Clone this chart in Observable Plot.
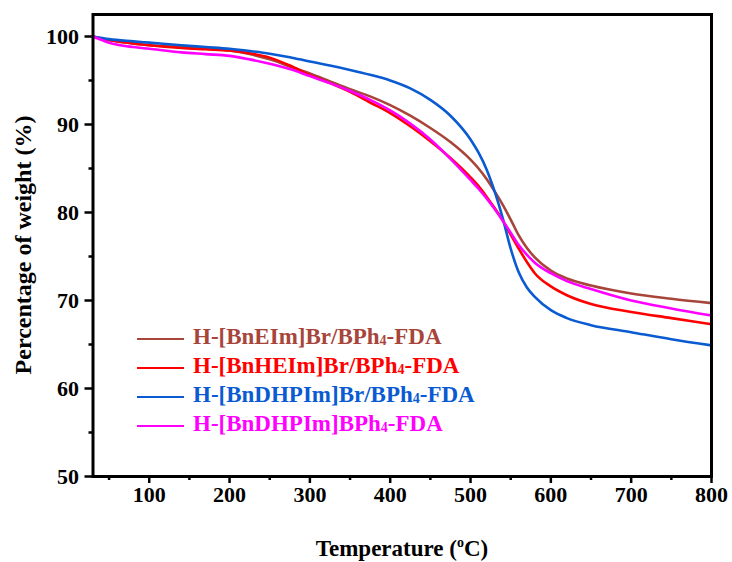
<!DOCTYPE html>
<html>
<head>
<meta charset="utf-8">
<script src="https://cdn.jsdelivr.net/npm/d3@7"></script>
<script src="https://cdn.jsdelivr.net/npm/@observablehq/plot@0.6"></script>
<style>
  html, body { margin: 0; padding: 0; background: #fff; }
  #chart { position: relative; width: 732px; height: 562px; }
  .legend { position: absolute; left: 137px; top: 324px; font-family: "Liberation Serif", "Times New Roman", serif; font-weight: bold; font-size: 23px; line-height: 29px; }
  .legend .row { display: flex; align-items: center; height: 29px; white-space: nowrap; }
  .legend .sw { width: 47px; height: 0; border-top: 2.5px solid; margin-right: 9px; }
  .legend sub { font-size: 14px; vertical-align: -1px; }
</style>
</head>
<body>
<div id="chart"></div>
<script>
// Temperature (°C) sample points
const temps = [30, 50, 80, 100, 140, 170, 200, 225, 250, 275, 300, 325, 350, 375, 400, 425, 450, 475, 500, 510, 520, 530, 540, 550, 560, 570, 580, 600, 620, 650, 700, 750, 800];
// Weight (%) per series
const bnEIm     = [100, 99.6, 99.2, 99.0, 98.8, 98.6, 98.4, 98.0, 97.4, 96.6, 95.8, 94.9, 94.0, 93.2, 92.2, 91.0, 89.6, 88.0, 86.0, 85.0, 83.8, 82.4, 80.9, 79.2, 77.4, 76.0, 74.9, 73.4, 72.5, 71.7, 70.8, 70.2, 69.7];
const bnHEIm    = [100, 99.6, 99.2, 99.0, 98.7, 98.55, 98.4, 98.1, 97.6, 96.7, 95.6, 94.7, 93.7, 92.5, 91.3, 89.8, 88.1, 86.2, 84.0, 83.0, 81.8, 80.5, 79.1, 77.5, 75.9, 74.4, 73.1, 71.6, 70.6, 69.6, 68.7, 68.0, 67.3];
const bnDHPImBr = [100, 99.7, 99.45, 99.3, 99.0, 98.8, 98.6, 98.35, 98.05, 97.65, 97.15, 96.7, 96.2, 95.65, 95.0, 94.1, 92.8, 91.0, 88.3, 86.8, 84.9, 82.4, 79.4, 75.9, 73.2, 71.5, 70.4, 68.9, 68.0, 67.2, 66.4, 65.6, 64.9];
const bnDHPIm   = [100, 99.3, 98.8, 98.6, 98.2, 98.0, 97.8, 97.4, 96.9, 96.3, 95.5, 94.7, 93.8, 92.8, 91.6, 90.1, 88.3, 86.1, 83.7, 82.7, 81.6, 80.4, 79.1, 77.7, 76.3, 75.2, 74.3, 73.1, 72.2, 71.3, 70.0, 69.1, 68.3];

const seriesNames = ["H-[BnEIm]Br/BPh4-FDA", "H-[BnHEIm]Br/BPh4-FDA", "H-[BnDHPIm]Br/BPh4-FDA", "H-[BnDHPIm]BPh4-FDA"];
const seriesValues = [bnEIm, bnHEIm, bnDHPImBr, bnDHPIm];
const seriesColors = ["#a8453a", "#ff0000", "#0a5ad2", "#ff00ff"];

const xTicks = [100, 200, 300, 400, 500, 600, 700, 800];
const xMinor = [50, 150, 250, 350, 450, 550, 650, 750];
const yTicks = [50, 60, 70, 80, 90, 100];
const yMinor = [55, 65, 75, 85, 95];

const rows = [];
seriesNames.forEach((name, i) => {
  temps.forEach((t, j) => rows.push({series: name, T: t, W: seriesValues[i][j]}));
});

const plot = Plot.plot({
  width: 732,
  height: 562,
  marginLeft: 92.5,
  marginRight: 21,
  marginTop: 14,
  marginBottom: 86,
  style: {fontFamily: "'Liberation Serif', 'Times New Roman', serif", fontSize: "22px", fontWeight: "bold", color: "black", background: "white"},
  x: {domain: [30, 800]},
  y: {domain: [50, 102.5]},
  color: {domain: seriesNames, range: seriesColors},
  marks: [
    Plot.axisX({ticks: xTicks, tickSize: 7, tickPadding: 3, strokeWidth: 2.5, label: null}),
    Plot.axisX({ticks: xMinor, tickSize: 4, strokeWidth: 2.5, text: null, label: null}),
    Plot.axisY({ticks: yTicks, tickSize: 8, tickPadding: 6, strokeWidth: 2.5, label: null}),
    Plot.axisY({ticks: yMinor, tickSize: 4, strokeWidth: 2.5, text: null, label: null}),
    Plot.line(rows, {x: "T", y: "W", z: "series", stroke: "series", strokeWidth: 2.6, curve: "monotone-x"}),
    Plot.frame({stroke: "black", strokeWidth: 3})
  ]
});

const svg = d3.select(plot);
svg.append("text")
  .attr("transform", "translate(23,245) rotate(-90)")
  .attr("text-anchor", "middle")
  .attr("dominant-baseline", "central")
  .style("font-size", "24px")
  .style("font-weight", "bold")
  .text("Percentage of weight (%)");
const xt = svg.append("text")
  .attr("x", 402)
  .attr("y", 556)
  .attr("text-anchor", "middle")
  .style("font-size", "23px")
  .style("font-weight", "bold");
xt.append("tspan").text("Temperature (");
xt.append("tspan").attr("font-size", "14px").attr("dy", "-9").text("o");
xt.append("tspan").attr("dy", "9").text("C)");

const chart = document.getElementById("chart");
chart.appendChild(plot);

const legend = document.createElement("div");
legend.className = "legend";
seriesNames.forEach((name, i) => {
  const row = document.createElement("div");
  row.className = "row";
  row.style.color = seriesColors[i];
  const sw = document.createElement("span");
  sw.className = "sw";
  sw.style.borderTopColor = seriesColors[i];
  row.appendChild(sw);
  const label = document.createElement("span");
  const parts = name.split("BPh4");
  label.innerHTML = parts[0] + "BPh<sub>4</sub>" + parts[1];
  row.appendChild(label);
  legend.appendChild(row);
});
chart.appendChild(legend);
</script>
</body>
</html>
